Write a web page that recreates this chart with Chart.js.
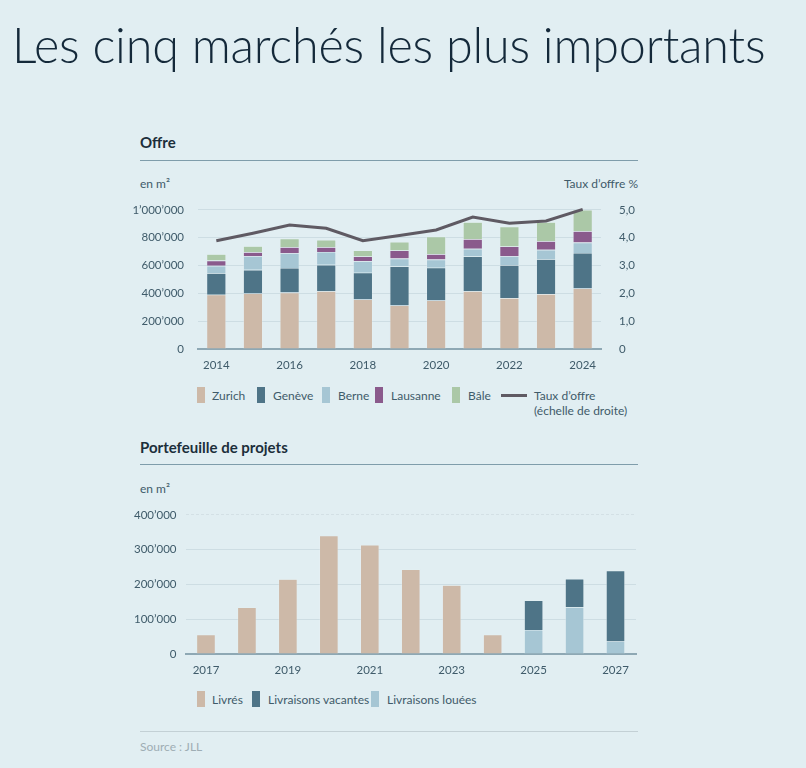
<!DOCTYPE html>
<html lang="fr">
<head>
<meta charset="utf-8">
<script src="https://cdn.jsdelivr.net/npm/chart.js@4/dist/chart.umd.min.js"></script>
<style>
  html, body { margin: 0; padding: 0; }
  body {
    width: 806px; height: 768px; position: relative; overflow: hidden;
    background: #e1eef2; font-family: Lato, "Open Sans", sans-serif; color: #3f5b6a;
  }
  .abs { position: absolute; white-space: nowrap; }
  h1 {
    position: absolute; left: 12px; top: 15px; margin: 0;
    font-weight: 300; font-size: 48.5px; color: #14293a; letter-spacing: -0.2px;
  }
  .sec { font-weight: 700; font-size: 15px; color: #1c2e3b; }
  .rule { position: absolute; left: 140px; width: 498px; height: 1px; background: #7f9dab; }
  .unit { font-size: 12px; color: #3f5b6a; }
  .leg { font-size: 12px; color: #3f5b6a; line-height: 15px; }
  .sw { position: absolute; width: 8px; height: 16px; }
  canvas { position: absolute; }
</style>
</head>
<body>
<h1>Les cinq marchés les plus importants</h1>

<div class="abs sec" style="left:140px; top:133px;">Offre</div>
<div class="rule" style="top:160px;"></div>
<div class="abs unit" style="left:140px; top:176px;">en m²</div>
<div class="abs unit" style="right:168px; top:176px;">Taux d’offre %</div>

<div style="position:absolute; left:130px; top:185px; width:520px; height:195px;">
  <canvas id="chartOffre"></canvas>
</div>
<div id="legOffre"></div>

<div class="abs sec" style="left:140px; top:438px;">Portefeuille de projets</div>
<div class="rule" style="top:464px;"></div>
<div class="abs unit" style="left:140px; top:481px;">en m²</div>

<div style="position:absolute; left:130px; top:499px; width:520px; height:186px;">
  <canvas id="chartProjets"></canvas>
</div>
<div id="legProjets"></div>

<div class="rule" style="top:731px; background:#c3d0d5;"></div>
<div class="abs" style="left:140px; top:739px; font-size:12px; color:#9eadb4;">Source : JLL</div>

<script>
// ---- données ----
const annees = ["2014","2015","2016","2017","2018","2019","2020","2021","2022","2023","2024"];
const zurich   = [390000, 399000, 406000, 416000, 356000, 313000, 349000, 416000, 366000, 395000, 435000];
const geneve   = [155000, 170000, 177000, 189000, 192000, 280000, 235000, 249000, 237000, 251000, 256000];
const berne    = [ 53000,  98000, 106000,  93000,  84000,  57000,  59000,  55000,  64000,  67000,  74000];
const lausanne = [ 38000,  29000,  43000,  34000,  33000,  58000,  39000,  70000,  70000,  62000,  82000];
const bale     = [ 46000,  43000,  62000,  53000,  43000,  62000, 126000, 122000, 143000, 137000, 153000];
const tauxOffre = [3.89, 4.16, 4.46, 4.34, 3.89, 4.08, 4.28, 4.74, 4.52, 4.60, 5.02];

const anneesProjets = ["2017","2018","2019","2020","2021","2022","2023","2024","2025","2026","2027"];
const livres     = [56000, 134000, 215000, 340000, 314000, 243000, 198000, 56000, null, null, null];
const louees     = [null, null, null, null, null, null, null, null, 69000, 135000, 36000];
const vacantes   = [null, null, null, null, null, null, null, null, 85000, 81000, 204000];

const yTicksGauche = [0, 200000, 400000, 600000, 800000, 1000000];
const yTicksDroite = [0, 1, 2, 3, 4, 5];
const yTicksProjets = [0, 100000, 200000, 300000, 400000];

const C = {
  zurich: "#cdb9a8", geneve: "#4e7487", berne: "#a6c6d4",
  lausanne: "#8a5a8c", bale: "#abc8a7", ligne: "#5f5a63",
  txt: "#3f5b6a", grid: "#cddde3", axe: "#8ea8b4"
};

const fmtMille = (v) => String(v).replace(/\B(?=(\d{3})+(?!\d))/g, "’");

Chart.defaults.font = { family: "Lato, 'Open Sans', sans-serif", size: 11.5 };
Chart.defaults.color = C.txt;
Chart.defaults.animation = false;

function barSet(label, data, color) {
  return {
    type: "bar", label, data, backgroundColor: color,
    borderColor: "rgba(235,242,245,0.7)", borderWidth: 0.6,
    barPercentage: 0.53, categoryPercentage: 1, order: 1, yAxisID: "y",
  };
}

new Chart(document.getElementById("chartOffre"), {
  data: {
    labels: annees,
    datasets: [
      {
        type: "line", label: "Taux d’offre", data: tauxOffre, yAxisID: "y2",
        borderColor: C.ligne, borderWidth: 3, pointRadius: 0, tension: 0,
        order: 0, clip: false,
      },
      barSet("Zurich", zurich, C.zurich),
      barSet("Genève", geneve, C.geneve),
      barSet("Berne", berne, C.berne),
      barSet("Lausanne", lausanne, C.lausanne),
      barSet("Bâle", bale, C.bale),
    ],
  },
  options: {
    responsive: true, maintainAspectRatio: false,
    layout: { padding: 0 },
    plugins: { legend: { display: false }, tooltip: { enabled: false } },
    scales: {
      x: {
        stacked: true, offset: true,
        grid: { display: false, drawTicks: false },
        border: { color: C.axe, width: 2 },
        ticks: { autoSkip: false, maxRotation: 0, padding: 9,
          callback: (v, i) => (i % 2 === 0 ? annees[i] : "") },
        afterFit: (s) => { s.height = 31; },
      },
      y: {
        stacked: true, min: 0, max: 1000000,
        afterBuildTicks: (s) => { s.ticks = yTicksGauche.map((v) => ({ value: v })); },
        grid: { color: C.grid, lineWidth: 1, drawTicks: false },
        border: { display: false },
        ticks: { padding: 14, callback: (v) => fmtMille(v) },
        afterFit: (s) => { s.width = 68; },
      },
      y2: {
        position: "right", min: 0, max: 5,
        afterBuildTicks: (s) => { s.ticks = yTicksDroite.map((v) => ({ value: v })); },
        grid: { display: false, drawTicks: false },
        border: { display: false },
        ticks: { padding: 18, callback: (v) => (v === 0 ? "0" : v.toFixed(1).replace(".", ",")) },
        afterFit: (s) => { s.width = 49; },
      },
    },
  },
});

new Chart(document.getElementById("chartProjets"), {
  type: "bar",
  data: {
    labels: anneesProjets,
    datasets: [
      { label: "Livrés", data: livres, backgroundColor: C.zurich },
      { label: "Livraisons louées", data: louees, backgroundColor: C.berne },
      { label: "Livraisons vacantes", data: vacantes, backgroundColor: C.geneve },
    ].map((d) => ({ ...d, borderColor: "rgba(235,242,245,0.7)", borderWidth: 0.6,
                     barPercentage: 0.46, categoryPercentage: 1 })),
  },
  options: {
    responsive: true, maintainAspectRatio: false,
    layout: { padding: { top: 0, right: 14, bottom: 0, left: 0 } },
    plugins: { legend: { display: false }, tooltip: { enabled: false } },
    scales: {
      x: {
        stacked: true, offset: true,
        grid: { display: false, drawTicks: false },
        border: { color: C.axe, width: 2 },
        ticks: { autoSkip: false, maxRotation: 0, padding: 9,
          callback: (v, i) => (i % 2 === 0 ? anneesProjets[i] : "") },
        afterFit: (s) => { s.height = 31; },
      },
      y: {
        stacked: true, min: 0, max: 400000,
        afterBuildTicks: (s) => { s.ticks = yTicksProjets.map((v) => ({ value: v })); },
        grid: { color: (ctx) => (ctx.tick && ctx.tick.value === 400000 ? "#d3e0e5" : C.grid),
                lineWidth: 1, drawTicks: false },
        border: { display: false, dash: (ctx) => (ctx.tick && ctx.tick.value === 400000 ? [3, 2] : []) },
        ticks: { padding: 9, callback: (v) => fmtMille(v) },
        afterFit: (s) => { s.width = 55.5; },
      },
    },
  },
});

// ---- légendes HTML ----
function legende(id, top, items) {
  const box = document.getElementById(id);
  box.innerHTML = items.map((it) => {
    const mark = it.line
      ? `<div class="abs" style="left:${it.x}px; top:${top + 7}px; width:26px; height:3px; background:${it.color};"></div>`
      : `<div class="sw" style="left:${it.x}px; top:${top}px; background:${it.color};"></div>`;
    return mark + `<div class="abs leg" style="left:${it.tx}px; top:${top + 0.5}px;">${it.label}</div>`;
  }).join("");
}

legende("legOffre", 387, [
  { x: 197, tx: 212, color: C.zurich, label: "Zurich" },
  { x: 257, tx: 273, color: C.geneve, label: "Genève" },
  { x: 322, tx: 338, color: C.berne, label: "Berne" },
  { x: 375, tx: 391, color: C.lausanne, label: "Lausanne" },
  { x: 452, tx: 468, color: C.bale, label: "Bâle" },
  { x: 501, tx: 534, color: C.ligne, line: true, label: "Taux d’offre<br>(échelle de droite)" },
]);

legende("legProjets", 691, [
  { x: 197, tx: 212, color: C.zurich, label: "Livrés" },
  { x: 252, tx: 268, color: C.geneve, label: "Livraisons vacantes" },
  { x: 371, tx: 387, color: C.berne, label: "Livraisons louées" },
]);
</script>
</body>
</html>
